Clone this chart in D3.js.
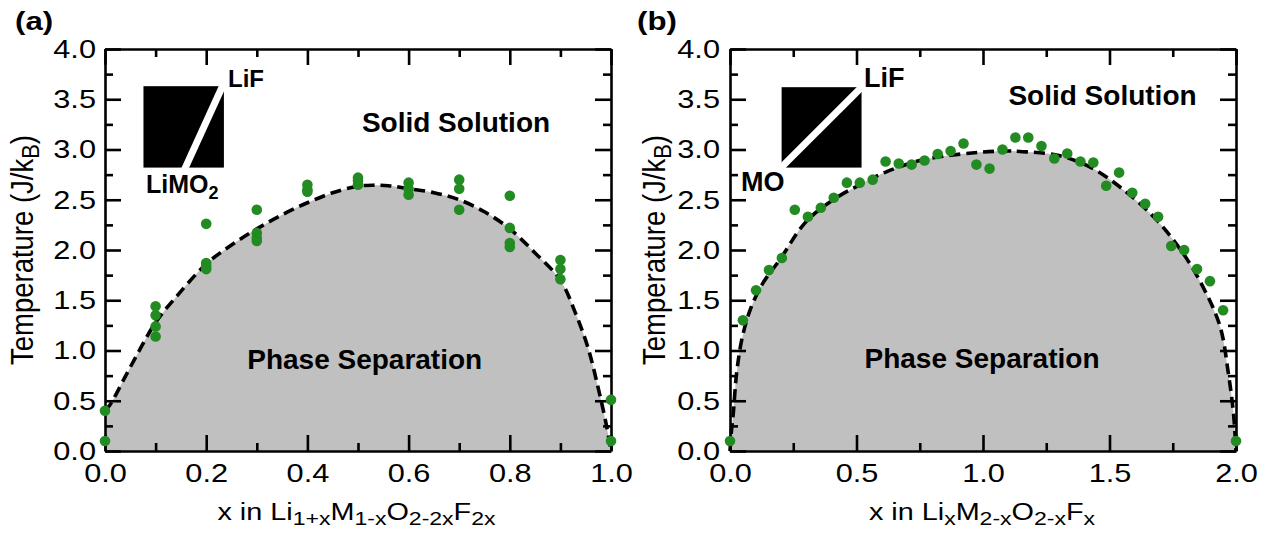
<!DOCTYPE html>
<html><head><meta charset="utf-8">
<script src="https://cdn.jsdelivr.net/npm/d3@7"></script>
<style>
body{margin:0;background:#fff}
svg{display:block}
text{font-family:"Liberation Sans",Arial,Helvetica,sans-serif;fill:#000}
</style>
</head><body>
<svg id="c" width="1270" height="533"></svg>
<script>
// ---------------- data ----------------
// Panel (a): simulated transition points, x in Li(1+x)M(1-x)O(2-2x)F(2x)
const aX = [0,0, 0.1,0.1,0.1,0.1, 0.2,0.2,0.2,0.2, 0.3,0.3,0.3,0.3, 0.4,0.4,0.4,
            0.5,0.5,0.5, 0.6,0.6,0.6, 0.7,0.7,0.7, 0.8,0.8,0.8,0.8, 0.9,0.9,0.9, 1.0,1.0];
const aT = [0.40,0.10, 1.44,1.35,1.24,1.14, 2.26,1.87,1.84,1.81, 2.40,2.17,2.12,2.09, 2.65,2.60,2.58,
            2.72,2.69,2.65, 2.67,2.61,2.55, 2.70,2.61,2.40, 2.54,2.22,2.07,2.03, 1.90,1.81,1.71, 0.51,0.10];
// Panel (a): fitted boundary (dashed)
const aCurveX = [0,0.01,0.04,0.07,0.1,0.14,0.2,0.25,0.3,0.35,0.4,0.45,0.5,0.53,0.56,0.6,0.65,0.7,0.75,0.8,0.85,0.9,0.93,0.955,0.975,0.99,1.0];
const aCurveT = [0.40,0.46,0.74,1.02,1.28,1.53,1.86,2.05,2.21,2.35,2.47,2.57,2.635,2.645,2.64,2.61,2.57,2.50,2.38,2.21,1.97,1.70,1.37,1.02,0.62,0.28,0.0];

// Panel (b): x in Li(x)M(2-x)O(2-x)F(x)
const bX = [0.000,0.051,0.103,0.154,0.205,0.256,0.308,0.359,0.410,0.462,0.513,0.564,0.615,0.667,0.718,0.769,0.821,0.872,0.923,0.974,
            1.026,1.077,1.128,1.179,1.231,1.282,1.333,1.385,1.436,1.487,1.538,1.590,1.641,1.692,1.744,1.795,1.846,1.897,1.949,2.000];
const bT = [0.10,1.30,1.60,1.80,1.92,2.40,2.33,2.42,2.52,2.67,2.67,2.70,2.88,2.86,2.85,2.89,2.955,2.985,3.06,2.85,
            2.81,3.00,3.12,3.12,3.035,2.91,2.96,2.88,2.87,2.64,2.77,2.57,2.46,2.33,2.04,2.00,1.81,1.69,1.40,0.10];
const bCurveX = [0,0.005,0.013,0.026,0.046,0.079,0.13,0.196,0.30,0.408,0.514,0.62,0.75,0.882,1.0,1.1,1.146,1.29,1.42,1.555,1.686,1.79,1.87,1.937,1.97,1.99,2.0];
const bCurveT = [0,0.18,0.375,0.77,1.10,1.40,1.67,1.90,2.28,2.50,2.65,2.78,2.89,2.945,2.975,2.985,2.98,2.945,2.83,2.60,2.30,1.97,1.63,1.24,0.77,0.375,0];

// ticks
const yMajor = [0,0.5,1.0,1.5,2.0,2.5,3.0,3.5,4.0];
const yMinor = [0.25,0.75,1.25,1.75,2.25,2.75,3.25,3.75];
const aXMajor = [0,0.2,0.4,0.6,0.8,1.0];
const aXMinor = [0.1,0.3,0.5,0.7,0.9];
const bXMajor = [0,0.5,1.0,1.5,2.0];
const bXMinor = [0.25,0.75,1.25,1.75];

// ---------------- drawing ----------------
const svg = d3.select("#c");
const SX = 1.16;           // horizontal stretch of the regular-weight text in the reference
const fmt1 = d3.format(".1f");
const GREEN = "#228b22", GREY = "#c0c0c0";
const smooth = d3.curveCatmullRom.alpha(0.5);

function drawPanel(o){
  const x = d3.scaleLinear().domain(o.xDomain).range([o.left, o.right]);
  const y = d3.scaleLinear().domain([0,4]).range([451, 49]);
  const g = svg.append("g");
  const curve = o.cx.map((d,i)=>[d, o.cy[i]]);

  // shaded two-phase region
  g.append("path").datum(curve).attr("fill", GREY)
    .attr("d", d3.area().x(d=>x(d[0])).y0(y(0)).y1(d=>y(d[1])).curve(smooth));

  // axes
  function ax(gen, tr, size, values, withLabels){
    const a = g.append("g").attr("transform", tr)
      .call(gen.tickValues(values).tickSize(size).tickSizeOuter(0)
        .tickFormat(withLabels ? fmt1 : "").tickPadding(10));
    a.select(".domain").attr("stroke","#000").attr("stroke-width",2.6);
    a.selectAll(".tick line").attr("stroke","#000").attr("stroke-width",2.6);
    return a;
  }
  const bottom = ax(d3.axisBottom(x), `translate(0,${y(0)})`, -16, o.xMajor, true);
  bottom.selectAll(".tick text").attr("font-size",26.5).attr("y",12.5)
    .attr("transform",`scale(${SX},1)`);
  ax(d3.axisBottom(x), `translate(0,${y(0)})`, -8, o.xMinor, false).select(".domain").remove();
  ax(d3.axisTop(x), `translate(0,${y(4)})`, -16, o.xMajor, false);
  ax(d3.axisTop(x), `translate(0,${y(4)})`, -8, o.xMinor, false).select(".domain").remove();

  const left = ax(d3.axisLeft(y), `translate(${o.left},0)`, -16, yMajor, true);
  left.selectAll(".tick text").attr("font-size",26.5).attr("x", -o.ylabPad / SX)
    .attr("transform",`scale(${SX},1)`);
  ax(d3.axisLeft(y), `translate(${o.left},0)`, -8, yMinor, false).select(".domain").remove();
  ax(d3.axisRight(y), `translate(${o.right},0)`, -16, yMajor, false);
  ax(d3.axisRight(y), `translate(${o.right},0)`, -8, yMinor, false).select(".domain").remove();

  // dashed boundary
  g.append("path").datum(curve).attr("fill","none").attr("stroke","#000")
    .attr("stroke-width",3.6).attr("stroke-dasharray","11,6")
    .attr("d", d3.line().x(d=>x(d[0])).y(d=>y(d[1])).curve(smooth));

  // points
  g.append("g").selectAll("circle").data(o.px.map((d,i)=>[d,o.py[i]])).join("circle")
    .attr("cx", d=>x(d[0])).attr("cy", d=>y(d[1])).attr("r",5.3).attr("fill",GREEN);

  // inset
  const ins = o.inset;
  g.append("rect").attr("x", x(ins.x0)).attr("y", y(ins.y1))
    .attr("width", x(ins.x1)-x(ins.x0)).attr("height", y(ins.y0)-y(ins.y1)).attr("fill","#000");
  g.append("line").attr("x1", x(ins.l[0])).attr("y1", y(ins.l[1]))
    .attr("x2", x(ins.l[2])).attr("y2", y(ins.l[3])).attr("stroke","#fff").attr("stroke-width",7);

  // region labels
  g.append("text").attr("x", o.solid[0]).attr("y", o.solid[1]).attr("text-anchor","middle")
    .attr("font-weight","bold").attr("font-size",28).text("Solid Solution");
  g.append("text").attr("x", o.phase[0]).attr("y", o.phase[1]).attr("text-anchor","middle")
    .attr("font-weight","bold").attr("font-size",28).text("Phase Separation");

  // panel label
  g.append("text").attr("transform",`translate(${o.tag[0]},${o.tag[1]}) scale(1.2,1)`)
    .attr("font-weight","bold").attr("font-size",26).text(o.tagText);

  // y title
  const yt = g.append("text")
    .attr("transform",`translate(${o.yTitleX},250) scale(1.12,1) rotate(-90)`)
    .attr("text-anchor","middle").attr("font-size",27.5);
  yt.append("tspan").text("Temperature (J/k");
  yt.append("tspan").attr("font-size","0.8em").attr("dy",5).text("B");
  yt.append("tspan").attr("dy",-5).text(")");

  // x title
  const xt = g.append("text")
    .attr("transform",`translate(${o.xTitleX},520) scale(${SX+0.04},1)`)
    .attr("text-anchor","middle").attr("font-size",24);
  o.xTitle.forEach(p=>{
    if(p.sub) xt.append("tspan").attr("font-size","0.8em").attr("dy",5).text(p.t);
    else xt.append("tspan").attr("dy", p.reset ? -5 : 0).text(p.t);
  });
  return {x,y,g};
}

// ---- panel (a)
const A = drawPanel({
  xDomain:[0,1], left:105, right:611, xMajor:aXMajor, xMinor:aXMinor, ylabPad:9,
  cx:aCurveX, cy:aCurveT, px:aX, py:aT,
  inset:{x0:0.076, x1:0.235, y0:2.82, y1:3.63, l:[0.157,2.80,0.233,3.64]},
  solid:[456,132], phase:[364.7,369], tag:[15,30], tagText:"(a)",
  yTitleX:33, xTitleX:356.5,
  xTitle:[{t:"x in Li"},{t:"1+x",sub:1},{t:"M",reset:1},{t:"1-x",sub:1},{t:"O",reset:1},
          {t:"2-2x",sub:1},{t:"F",reset:1},{t:"2x",sub:1}]
});
A.g.append("text").attr("x",228).attr("y",87).attr("font-weight","bold").attr("font-size",24).text("LiF");
const limo = A.g.append("text").attr("x",146).attr("y",193).attr("font-weight","bold").attr("font-size",25);
limo.append("tspan").text("LiMO");
limo.append("tspan").attr("font-size","0.72em").attr("dy",6).text("2");

// ---- panel (b)
const B = drawPanel({
  xDomain:[0,2], left:730, right:1236, xMajor:bXMajor, xMinor:bXMinor, ylabPad:10,
  cx:bCurveX, cy:bCurveT, px:bX, py:bT,
  inset:{x0:0.204, x1:0.520, y0:2.82, y1:3.62, l:[0.190,2.79,0.522,3.625]},
  solid:[1102.5,105], phase:[982,368], tag:[637,30], tagText:"(b)",
  yTitleX:665, xTitleX:982,
  xTitle:[{t:"x in Li"},{t:"x",sub:1},{t:"M",reset:1},{t:"2-x",sub:1},{t:"O",reset:1},
          {t:"2-x",sub:1},{t:"F",reset:1},{t:"x",sub:1}]
});
B.g.append("text").attr("x",864).attr("y",87).attr("font-weight","bold").attr("font-size",27).text("LiF");
B.g.append("text").attr("x",741).attr("y",191).attr("font-weight","bold").attr("font-size",27).text("MO");
</script>
</body></html>
